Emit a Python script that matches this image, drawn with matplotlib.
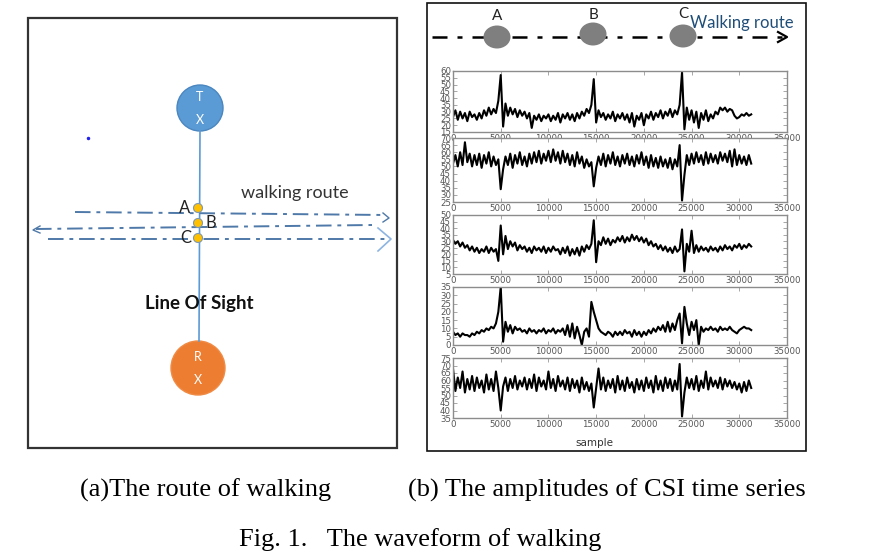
import matplotlib
matplotlib.use('Agg')
import matplotlib.pyplot as plt
from matplotlib.patches import Circle, Ellipse, Rectangle
import numpy as np

# CSI amplitude series, every 250 samples
samples = np.arange(0, 31500, 250)

csi_1 = [26, 31, 24, 30, 25, 29, 23, 30, 26, 28,
         24, 29, 25, 31, 27, 33, 28, 32, 29, 38,
         57, 19, 36, 27, 33, 28, 32, 26, 31, 27,
         30, 25, 29, 18, 27, 24, 28, 23, 27, 25,
         28, 23, 27, 24, 29, 22, 28, 25, 29, 24,
         28, 23, 29, 25, 30, 27, 32, 29, 35, 54,
         22, 31, 26, 29, 24, 28, 25, 30, 23, 28,
         25, 29, 24, 28, 22, 29, 19, 27, 24, 29,
         20, 28, 25, 30, 24, 29, 26, 31, 25, 30,
         27, 32, 26, 31, 28, 35, 59, 17, 33, 24,
         31, 22, 30, 18, 29, 24, 31, 23, 28, 25,
         30, 28, 33, 31, 33, 30, 32, 31, 27, 25,
         26, 28, 27, 29, 27, 28]

csi_2 = [52, 58, 50, 60, 51, 67, 53, 59, 50, 58,
         51, 59, 49, 58, 52, 60, 50, 57, 51, 55,
         34, 48, 57, 51, 59, 49, 58, 52, 60, 51,
         57, 50, 59, 52, 60, 53, 61, 52, 59, 54,
         61, 53, 62, 54, 60, 52, 61, 53, 59, 51,
         58, 50, 60, 52, 57, 49, 55, 50, 53, 36,
         49, 57, 51, 59, 50, 58, 52, 60, 51, 57,
         50, 58, 52, 59, 51, 57, 50, 58, 52, 60,
         51, 57, 49, 58, 50, 56, 49, 57, 50, 55,
         49, 56, 48, 55, 50, 65, 26, 44, 58, 51,
         59, 52, 60, 53, 58, 51, 60, 52, 59, 53,
         58, 52, 60, 54, 59, 53, 61, 50, 62, 51,
         58, 52, 57, 51, 58, 52]

csi_3 = [31, 28, 30, 26, 29, 25, 27, 23, 26, 22,
         25, 21, 24, 22, 26, 21, 25, 22, 24, 15,
         42, 20, 34, 24, 30, 26, 29, 23, 27, 24,
         26, 22, 25, 21, 26, 23, 25, 22, 26, 21,
         25, 22, 26, 23, 24, 20, 25, 21, 26, 19,
         24, 20, 25, 19, 26, 22, 27, 24, 28, 46,
         14, 30, 27, 33, 28, 32, 27, 31, 29, 33,
         30, 34, 29, 33, 30, 35, 31, 34, 30, 33,
         29, 32, 27, 30, 26, 28, 24, 27, 23, 26,
         22, 25, 21, 26, 22, 24, 39, 7, 28, 22,
         38, 21, 27, 22, 26, 23, 25, 22, 26, 23,
         25, 22, 26, 23, 27, 24, 26, 23, 27, 25,
         28, 24, 27, 25, 28, 26]

csi_4 = [8, 6, 7, 5, 7, 6, 6, 5, 7, 6,
         8, 7, 9, 8, 10, 9, 11, 10, 13, 20,
         35, 2, 14, 8, 12, 7, 11, 9, 10, 8,
         9, 7, 10, 8, 9, 7, 9, 8, 10, 7,
         9, 8, 10, 7, 9, 8, 10, 6, 12, 5,
         13, 4, 11, 6, 0, 8, 10, 5, 26, 20,
         15, 10, 8, 7, 6, 8, 7, 5, 8, 6,
         8, 6, 9, 7, 8, 5, 9, 6, 8, 5,
         8, 6, 9, 7, 10, 8, 11, 9, 12, 8,
         14, 8, 13, 9, 15, 19, 1, 23, 13, 6,
         14, 9, 15, 0, 11, 8, 10, 9, 11, 9,
         10, 8, 11, 9, 10, 9, 11, 9, 8, 7,
         9, 10, 11, 10, 10, 9]

csi_5 = [68, 53, 62, 55, 66, 52, 61, 54, 63, 53,
         62, 55, 60, 52, 64, 54, 61, 53, 66, 55,
         40, 56, 62, 53, 61, 55, 63, 54, 60, 56,
         62, 54, 61, 55, 64, 53, 62, 56, 60, 54,
         66, 55, 61, 53, 63, 56, 60, 54, 62, 53,
         61, 55, 60, 52, 62, 54, 59, 53, 58, 42,
         55, 68, 54, 62, 53, 60, 55, 61, 52, 63,
         54, 60, 53, 62, 55, 59, 52, 61, 54, 60,
         53, 62, 55, 60, 52, 63, 54, 60, 53, 62,
         55, 61, 53, 60, 54, 71, 36, 52, 62, 55,
         61, 54, 63, 53, 60, 55, 66, 54, 62, 56,
         60, 55, 62, 54, 61, 56, 60, 55, 59, 54,
         58, 52, 59, 53, 60, 55]

series = [csi_1, csi_2, csi_3, csi_4, csi_5]
y_limits = [(15, 60), (25, 70), (5, 50), (0, 35), (35, 75)]
x_ticks = [0, 5000, 10000, 15000, 20000, 25000, 30000, 35000]
route_points = ['A', 'B', 'C']

W, H = 877, 557
fig = plt.figure(figsize=(W / 100, H / 100), dpi=100)
narrow = ['Liberation Sans Narrow', 'Lato', 'DejaVu Sans']
serif = ['Liberation Serif', 'DejaVu Serif']


def px_axes(x0, y0, x1, y1):
    return fig.add_axes([x0 / W, 1 - y1 / H, (x1 - x0) / W, (y1 - y0) / H])


# overlay in pixel units for the sketches and captions
ov = fig.add_axes([0, 0, 1, 1], zorder=0)
ov.set_xlim(0, W)
ov.set_ylim(H, 0)
ov.axis('off')

# ---- (a) route of walking ----
ov.add_patch(Rectangle((28, 18), 369, 430, fill=False, ec='#333333', lw=1.6))
ov.plot([200, 199], [131, 341], color='#5B9BD5', lw=1.2)
ov.add_patch(Circle((200, 108), 23, fc='#5B9BD5', ec='#4A86C0', lw=1))
ov.text(200, 97, 'T', color='white', ha='center', va='center', fontsize=9, family=narrow)
ov.text(200, 120, 'X', color='white', ha='center', va='center', fontsize=9, family=narrow)
ov.add_patch(Circle((198, 368), 27, fc='#ED7D31', ec='#F08B45', lw=1))
ov.text(198, 357, 'R', color='white', ha='center', va='center', fontsize=9, family=narrow)
ov.text(198, 380, 'X', color='white', ha='center', va='center', fontsize=9, family=narrow)

route_col = '#4F79A8'
ov.plot([75, 386], [212, 215], color=route_col, lw=1.4, ls=(0, (8, 3, 2, 3)))
ov.plot([383, 389, 383], [213, 218, 222], color=route_col, lw=1.0)
ov.plot([36, 372], [229, 225], color=route_col, lw=1.4, ls=(0, (8, 3, 2, 3)))
ov.plot([40, 33, 40], [226, 230, 233], color=route_col, lw=1.0)
ov.plot([48, 388], [239, 239], color=route_col, lw=1.4, ls=(0, (8, 3, 2, 3)))
ov.plot([378, 391, 378], [228, 239, 251], color='#8DB4E2', lw=1.2)

for lab, yy, lx in zip(route_points, [208, 223, 238], [185, 211, 186]):
    ov.add_patch(Circle((198, yy), 4.5, fc='#FFC000', ec='#7F98B0', lw=0.8, zorder=3))
    ov.text(lx, yy, lab, ha='center', va='center', fontsize=12, family=narrow, color='#222222')

ov.text(295, 193, 'walking route', ha='center', va='center', fontsize=13, family=narrow, color='#333333')
ov.text(199, 303, 'Line Of Sight', ha='center', va='center', fontsize=13.5, family=narrow,
        color='#111111', weight='bold')
ov.plot([88], [138], marker='o', ms=1.5, color='#2222ee')

# ---- (b) CSI time series ----
ov.add_patch(Rectangle((427, 3), 379, 448, fill=False, ec='#111111', lw=1.2))
ov.plot([432, 782], [37, 37], color='black', lw=1.8, ls=(0, (6, 4, 2, 4)))
ov.plot([778, 787, 778], [32, 37, 42], color='black', lw=1.6)
for lab, cx, cy, ly in zip(route_points, [497, 593, 683], [37, 34, 36], [16, 15, 14]):
    ov.add_patch(Ellipse((cx, cy), 27, 23, fc='#7F7F7F', ec='none', zorder=3))
    ov.text(cx, ly, lab, ha='center', va='center', fontsize=11, family=['Lato', 'DejaVu Sans'],
            color='#222222')
ov.text(742, 23, 'Walking route', ha='center', va='center', fontsize=12,
        family=['Lato', 'DejaVu Sans'], color='#1F4E79')

rects = [(453, 71, 787, 132), (453, 138, 787, 202), (453, 215, 787, 274),
         (453, 287, 787, 345), (453, 358, 787, 418)]
for (x0, y0, x1, y1), vals, (lo, hi) in zip(rects, series, y_limits):
    ax = px_axes(x0, y0, x1, y1)
    ax.plot(samples, vals, color='black', lw=1.5)
    ax.set_xlim(0, 35000)
    ax.set_ylim(lo, hi)
    ax.set_xticks(x_ticks)
    ax.set_yticks(range(lo, hi + 1, 5))
    ax.tick_params(direction='in', top=True, right=True, length=3, width=0.6,
                   labelsize=6.2, labelcolor='#555555', color='#999999', pad=1.5)
    for s in ax.spines.values():
        s.set_color('#8C8C8C')
        s.set_linewidth(1.0)
ov.text(594, 443, 'sample', ha='center', va='center', fontsize=7.5, color='#333333')

# ---- captions ----
ov.text(206, 490, '(a)The route of walking', ha='center', va='center', fontsize=19, family=serif)
ov.text(607, 490, '(b) The amplitudes of CSI time series', ha='center', va='center',
        fontsize=19, family=serif)
ov.text(420, 540, 'Fig. 1.   The waveform of walking', ha='center', va='center',
        fontsize=19, family=serif)

fig.savefig('out.png', dpi=100)
